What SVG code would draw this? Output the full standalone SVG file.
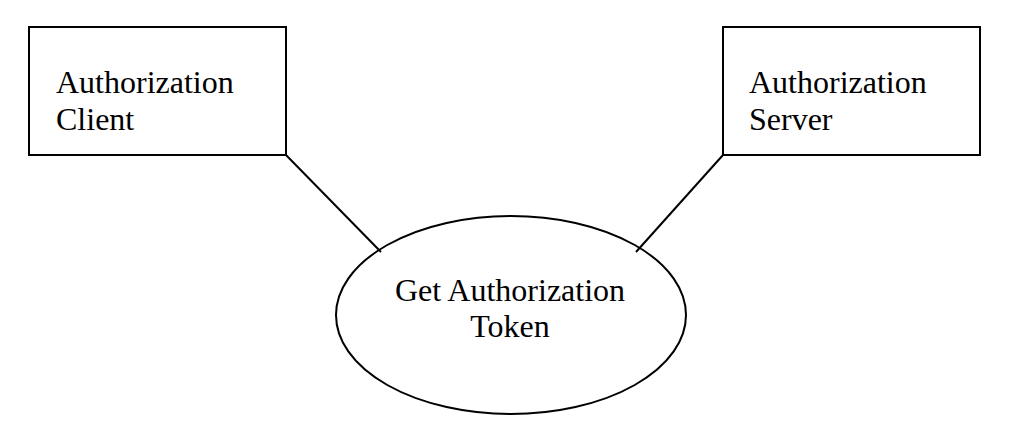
<svg xmlns="http://www.w3.org/2000/svg" width="1014" height="432" viewBox="0 0 1014 432">
<style>
.shape{fill:#fff;stroke:#000;stroke-width:2}
.lbl{font-family:"Liberation Serif","Times New Roman",serif;font-size:32px;fill:#000}
.conn{stroke:#000;stroke-width:2;fill:none}
</style>
<rect width="1014" height="432" fill="#fff"/>
<g id="connectors">
<line class="conn" x1="286" y1="155" x2="381" y2="252"/>
<line class="conn" x1="723" y1="155" x2="636" y2="252"/>
</g>
<g id="client">
<rect class="shape" x="29" y="27" width="257" height="128"/>
<text class="lbl" x="56" y="93">Authorization</text>
<text class="lbl" x="56" y="130">Client</text>
</g>
<g id="server">
<rect class="shape" x="723" y="27" width="257" height="128"/>
<text class="lbl" x="749" y="93">Authorization</text>
<text class="lbl" x="749" y="130">Server</text>
</g>
<g id="token">
<ellipse class="shape" cx="511" cy="315" rx="175" ry="99" style="fill:none"/>
<text class="lbl" x="510" y="301" text-anchor="middle">Get Authorization</text>
<text class="lbl" x="510" y="337" text-anchor="middle">Token</text>
</g>
</svg>
